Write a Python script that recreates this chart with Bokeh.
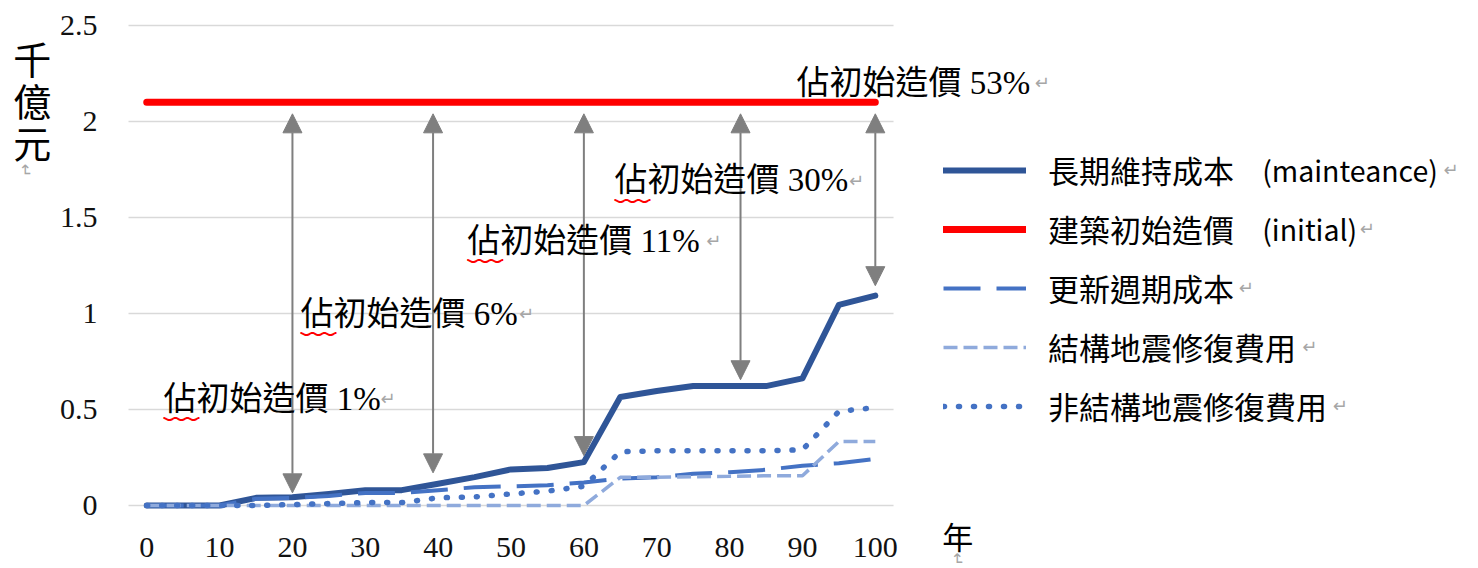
from bokeh.plotting import figure
from bokeh.models import (Legend, LegendItem, Label, Arrow, NormalHead,
                          FixedTicker, NumeralTickFormatter, Range1d, ColumnDataSource)
from bokeh.embed import file_html
from bokeh.resources import INLINE

# ---- data (千億元, per 5-year step) ----
years = [0, 5, 10, 15, 20, 25, 30, 35, 40, 45, 50,
         55, 60, 65, 70, 75, 80, 85, 90, 95, 100]
maintenance = [0, 0, 0, 0.04, 0.043, 0.06, 0.08, 0.08, 0.113, 0.148, 0.188,
               0.195, 0.226, 0.565, 0.596, 0.622, 0.622, 0.622, 0.662, 1.045, 1.093]
initial_cost = [2.1, 2.1, 2.1, 2.1, 2.1, 2.1, 2.1, 2.1, 2.1, 2.1, 2.1,
                2.1, 2.1, 2.1, 2.1, 2.1, 2.1, 2.1, 2.1, 2.1, 2.1]
renewal = [0, 0, 0, 0.035, 0.04, 0.05, 0.065, 0.065, 0.08, 0.095, 0.1,
           0.105, 0.12, 0.14, 0.147, 0.165, 0.173, 0.186, 0.207, 0.22, 0.243]
structural = [0, 0, 0, 0, 0, 0, 0, 0, 0, 0, 0,
              0, 0, 0.147, 0.147, 0.15, 0.152, 0.155, 0.155, 0.333, 0.333]
nonstructural = [0, 0, 0, 0, 0.005, 0.01, 0.015, 0.015, 0.04, 0.045, 0.06,
                 0.075, 0.1, 0.28, 0.285, 0.285, 0.285, 0.285, 0.29, 0.49, 0.51]

series_labels = ["長期維持成本", "建築初始造價", "更新週期成本",
                 "結構地震修復費用", "非結構地震修復費用"]
series_notes = ["(mainteance)", "(initial)"]

x_ticks = [0, 10, 20, 30, 40, 50, 60, 70, 80, 90, 100]
y_ticks = [0, 0.5, 1, 1.5, 2, 2.5]

# share of the initial cost reached by the maintenance cost
share_years = [20, 39.3, 60, 81.5, 100]
share_tip = [0.066, 0.17, 0.26, 0.655, 1.145]
share_top = 2.04
share_texts = ["佔初始造價 1%", "佔初始造價 6%", "佔初始造價 11%",
               "佔初始造價 30%", "佔初始造價 53%"]

# callout text anchors (left edge, vertical middle) and return-mark x
share_label_x = [2.3, 21.1, 44.0, 64.2, 89.2]
share_label_y = [0.557, 1.0, 1.38, 1.693, 2.203]
share_mark_x = [32.1, 51.1, 76.8, 96.4, 121.9]

# legend row centres, the x of the English notes and of the return marks
legend_row_y = [1.750, 1.443, 1.135, 0.828, 0.521]
note_x = 153.1
legend_mark_x = [178.0, 166.5, 149.9, 158.6, 162.8]

# plotting area of the category axis: half a step of padding on each side
AREA_X = (-2.5, 102.5)

CJK = "Noto Sans CJK TC"
MIXED = "'Liberation Serif', 'Noto Sans CJK TC'"
MARK_GREY = "#A6A6A6"
GRID = "#D9D9D9"

# the frame fills the whole canvas; axes are pinned inside it
p = figure(width=1478, height=568, output_backend="svg", toolbar_location=None,
           x_range=Range1d(-20.07, 182.79), y_range=Range1d(-0.3281, 2.6302),
           min_border_left=0, min_border_right=0,
           min_border_top=0, min_border_bottom=0)
p.outline_line_color = None
p.background_fill_color = "white"
p.border_fill_color = "white"
p.xgrid.visible = False
p.ygrid.visible = False

p.xaxis.ticker = FixedTicker(ticks=x_ticks)
p.yaxis.ticker = FixedTicker(ticks=y_ticks)
p.yaxis.formatter = NumeralTickFormatter(format="0.[0]")
p.xaxis.fixed_location = 0
p.yaxis.fixed_location = AREA_X[0]
for ax in (p.xaxis, p.yaxis):
    ax.axis_line_color = None
    ax.major_tick_line_color = None
    ax.minor_tick_line_color = None
    ax.major_tick_out = 0
    ax.major_tick_in = 0
    ax.major_label_text_font = "Liberation Serif"
    ax.major_label_text_font_size = "30px"
    ax.major_label_text_color = "#111111"
p.xaxis.major_label_standoff = 32
p.yaxis.major_label_standoff = 31

# horizontal gridlines across the plotting area
p.segment(x0=[AREA_X[0]] * len(y_ticks), y0=y_ticks,
          x1=[AREA_X[1]] * len(y_ticks), y1=y_ticks,
          line_color=GRID, line_width=1.5)

r_main = p.line(years, maintenance, line_color="#2F5597", line_width=6,
                line_join="round", line_cap="round")
r_init = p.line(years, initial_cost, line_color="#FF0000", line_width=7,
                line_cap="round")
r_renew = p.line(years, renewal, line_color="#4472C4", line_width=4,
                 line_dash="37 16")
r_struct = p.line(years, structural, line_color="#8FAADC", line_width=3.5,
                  line_dash="14 6")
r_nonstruct = p.line(years, nonstructural, line_color="#4472C4", line_width=5.5,
                     line_dash="1 14", line_cap="round")

# double-headed arrows from the initial cost down to the maintenance curve
arrow_src = ColumnDataSource(dict(x0=share_years, y0=[share_top] * len(share_years),
                                  x1=share_years, y1=share_tip))
head = dict(size=19, fill_color="#7F7F7F", line_color="#7F7F7F", line_width=1)
p.add_layout(Arrow(source=arrow_src, x_start="x0", y_start="y0", x_end="x1", y_end="y1",
                   start=NormalHead(**head), end=NormalHead(**head),
                   line_color="#7F7F7F", line_width=2))

def mark(x, y, size="18px", angle=0):
    """Grey paragraph mark."""
    p.add_layout(Label(x=x, y=y, text="↵", text_font="DejaVu Sans",
                       text_font_size=size, text_color=MARK_GREY, angle=angle,
                       angle_units="deg", text_align="left" if angle == 0 else "center",
                       text_baseline="middle"))

for tx, ty, txt, mx in zip(share_label_x, share_label_y, share_texts, share_mark_x):
    p.add_layout(Label(x=tx, y=ty - 0.02, text="﹏", text_font=CJK,
                       text_font_size="36px", text_color="#FF0000",
                       text_align="left", text_baseline="middle"))
    p.add_layout(Label(x=tx, y=ty, text=txt, text_font=MIXED, text_font_size="33px",
                       text_color="black", text_align="left", text_baseline="middle"))
    mark(mx, ty)

# axis titles
for ch, cy in zip(["千", "億", "元"], [2.333, 2.115, 1.896]):
    p.add_layout(Label(x=-15.7, y=cy, text=ch, text_font=CJK, text_font_size="38px",
                       text_color="black", text_align="center", text_baseline="middle"))
mark(-16.6, 1.745, size="16px", angle=-90)
p.add_layout(Label(x=111.3, y=-0.156, text="年", text_font=CJK, text_font_size="31px",
                   text_color="black", text_align="center", text_baseline="middle"))
mark(111.3, -0.28, size="16px", angle=-90)

legend = Legend(items=[LegendItem(label=lab, renderers=[r]) for lab, r in
                       zip(series_labels, [r_main, r_init, r_renew, r_struct, r_nonstruct])],
                location=(943, 140), orientation="vertical",
                glyph_width=83, glyph_height=40, label_height=40, spacing=14,
                label_standoff=22, padding=0, margin=0,
                border_line_color=None, background_fill_alpha=0,
                label_text_font=CJK, label_text_font_size="31px",
                label_text_color="black", label_text_baseline="middle")
p.add_layout(legend)

for note, ny in zip(series_notes, legend_row_y):
    p.add_layout(Label(x=note_x, y=ny, text=note, text_font=CJK, text_font_size="28.5px",
                       text_color="black", text_align="left", text_baseline="middle"))
for mx, my in zip(legend_mark_x, legend_row_y):
    mark(mx, my)

open("out.html", "w").write(file_html(p, INLINE))
